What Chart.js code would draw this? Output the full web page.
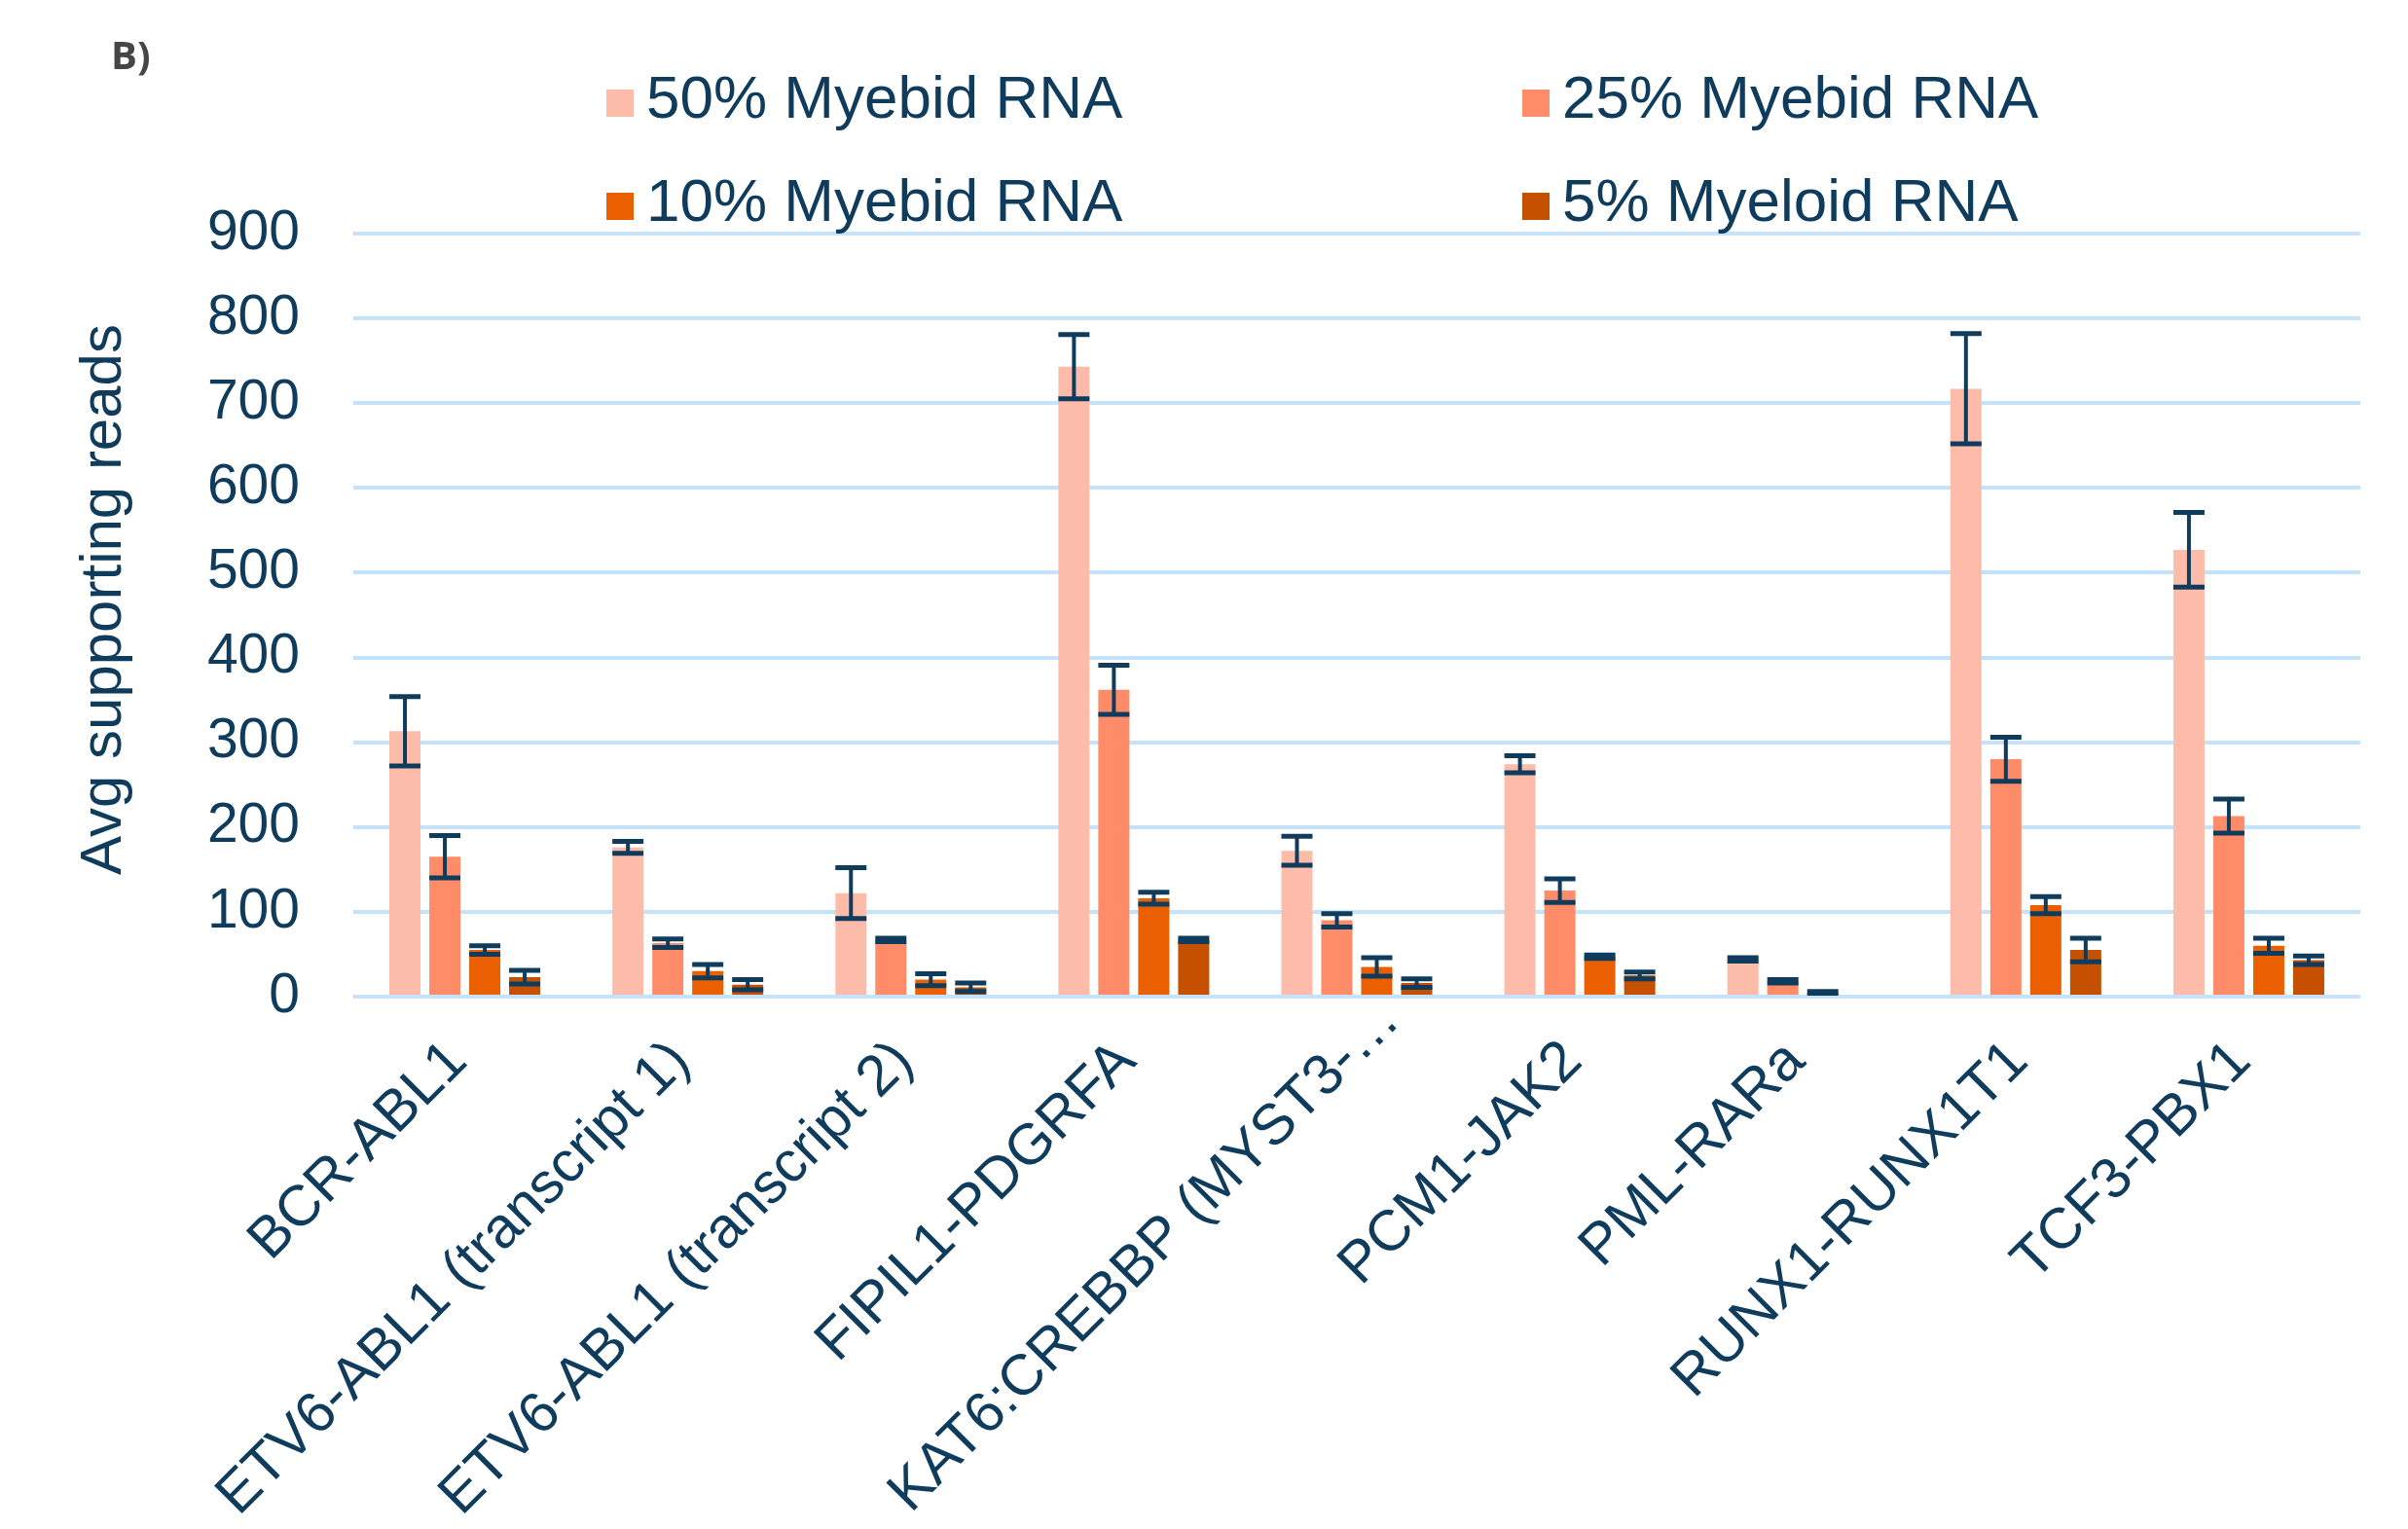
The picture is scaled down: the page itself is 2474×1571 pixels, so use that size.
<!DOCTYPE html>
<html>
<head>
<meta charset="utf-8">
<title>Avg supporting reads by fusion</title>
<script src="https://cdn.jsdelivr.net/npm/chart.js@4.4.1/dist/chart.umd.min.js"></script>
<style>
  html, body { margin: 0; padding: 0; background: #ffffff; }
  #wrap { position: relative; width: 2474px; height: 1571px; }
</style>
</head>
<body>
<div id="wrap"><canvas id="chart"></canvas></div>
<script>
// Fusion transcripts on the x axis
const categories = [
  'BCR-ABL1',
  'ETV6-ABL1 (transcript 1)',
  'ETV6-ABL1 (transcript 2)',
  'FIPIL1-PDGRFA',
  'KAT6:CREBBP (MYST3-\u2026',
  'PCM1-JAK2',
  'PML-RARa',
  'RUNX1-RUNX1T1',
  'TCF3-PBX1'
];

// Series names
const seriesNames = ['50% Myebid RNA', '25% Myebid RNA', '10% Myebid RNA', '5% Myeloid RNA'];

// Mean supporting reads per dilution
const reads50 = [313, 176, 122, 743, 172, 274, 44, 717, 527];
const reads25 = [165, 63, 67, 362, 90, 125, 18, 280, 213];
const reads10 = [55, 30, 20, 116, 35, 47, 5, 108, 60];
const reads5  = [23, 14, 11, 67, 16, 25, null, 55, 43];

// Error bar half-widths per dilution
const err50 = [41, 7, 30, 38, 17, 10, 2, 65, 44];
const err25 = [25, 5, 2, 29, 8, 14, 2, 26, 20];
const err10 = [5, 8, 7, 7, 11, 2, 1, 10, 9];
const err5  = [8, 6, 5, 2, 5, 4, null, 14, 5];

// Y axis tick values and title
const yTicks = [0, 100, 200, 300, 400, 500, 600, 700, 800, 900];
const yTitle = 'Avg supporting reads';

const navy = '#0f3c5c';
const seriesColors = ['#fdbba9', '#fe8c68', '#ea6000', '#c45000'];
const font = "'Liberation Sans', Arial, sans-serif";

// Symmetric error bars drawn on top of each bar
const errorBarPlugin = {
  id: 'errorBars',
  afterDatasetsDraw(chart, args, opts) {
    const ctx = chart.ctx;
    const yScale = chart.scales.y;
    chart.data.datasets.forEach((ds, di) => {
      const meta = chart.getDatasetMeta(di);
      if (meta.hidden) return;
      meta.data.forEach((bar, i) => {
        const v = ds.data[i];
        const e = ds.errors ? ds.errors[i] : null;
        if (v == null || e == null) return;
        const yTop = yScale.getPixelForValue(v + e);
        const yBot = yScale.getPixelForValue(Math.max(v - e, 0));
        const half = bar.width / 2;
        ctx.save();
        ctx.strokeStyle = opts.color;
        ctx.lineCap = 'butt';
        ctx.lineWidth = opts.stemWidth;
        ctx.beginPath();
        ctx.moveTo(bar.x, yTop);
        ctx.lineTo(bar.x, yBot);
        ctx.stroke();
        ctx.lineWidth = opts.capWidth;
        ctx.beginPath();
        ctx.moveTo(bar.x - half, yTop);
        ctx.lineTo(bar.x + half, yTop);
        ctx.moveTo(bar.x - half, yBot);
        ctx.lineTo(bar.x + half, yBot);
        ctx.stroke();
        ctx.restore();
      });
    });
  }
};

// Slanted category labels; a trailing ellipsis hangs past the tick
const categoryLabelPlugin = {
  id: 'categoryLabels',
  afterDraw(chart, args, opts) {
    const ctx = chart.ctx;
    const xs = chart.scales.x;
    const lineHeight = opts.size * 1.2;
    ctx.save();
    ctx.font = opts.size + 'px ' + font;
    ctx.fillStyle = opts.color;
    ctx.textAlign = 'right';
    ctx.textBaseline = 'middle';
    chart.data.labels.forEach((label, i) => {
      const hang = label.endsWith('\u2026') ? ctx.measureText('\u2026').width : 0;
      ctx.save();
      ctx.translate(xs.getPixelForTick(i) + opts.shiftX, xs.top + opts.padding);
      ctx.rotate(-opts.rotation * Math.PI / 180);
      ctx.fillText(label, hang, lineHeight / 2);
      ctx.restore();
    });
    ctx.restore();
  }
};

// Panel letter, two-column legend and rotated y title
const headerPlugin = {
  id: 'header',
  afterDraw(chart, args, opts) {
    const ctx = chart.ctx;
    ctx.save();
    ctx.fillStyle = opts.panelColor;
    ctx.font = opts.panelFont;
    ctx.textBaseline = 'middle';
    ctx.textAlign = 'left';
    ctx.fillText(opts.panelText, opts.panelX, opts.panelY);

    ctx.font = opts.itemFont;
    chart.data.datasets.forEach((ds, i) => {
      const col = i % 2, row = Math.floor(i / 2);
      const bx = opts.columns[col];
      const cy = opts.rows[row];
      ctx.fillStyle = ds.backgroundColor;
      ctx.fillRect(bx, cy - opts.boxSize / 2 + 2, opts.boxSize, opts.boxSize);
      ctx.fillStyle = opts.textColor;
      ctx.fillText(ds.label, bx + opts.boxSize + opts.gap, cy);
    });

    const ys = chart.scales.y;
    ctx.save();
    ctx.translate(opts.yTitleX, (ys.top + ys.bottom) / 2 + opts.yTitleShift);
    ctx.rotate(-Math.PI / 2);
    ctx.font = opts.yTitleFont;
    ctx.textAlign = 'center';
    ctx.fillStyle = opts.textColor;
    ctx.fillText(yTitle, 0, 0);
    ctx.restore();
    ctx.restore();
  }
};

const dataSeries = [reads50, reads25, reads10, reads5];
const errSeries = [err50, err25, err10, err5];

const chart = new Chart(document.getElementById('chart'), {
  type: 'bar',
  data: {
    labels: categories,
    datasets: seriesNames.map((name, i) => ({
      label: name,
      data: dataSeries[i],
      errors: errSeries[i],
      backgroundColor: seriesColors[i],
      borderWidth: 0,
      categoryPercentage: 0.716,
      barPercentage: 0.78
    }))
  },
  options: {
    responsive: true,
    maintainAspectRatio: false,
    animation: false,
    layout: { padding: { top: 240, right: 49, bottom: 0, left: 0 } },
    plugins: {
      legend: { display: false },
      tooltip: { enabled: false },
      errorBars: { color: navy, stemWidth: 4, capWidth: 5 },
      categoryLabels: { color: navy, size: 59, rotation: 45, padding: 32, shiftX: -32 },
      header: {
        panelText: 'B)',
        panelX: 114, panelY: 60,
        panelFont: "bold 40px 'Open Sans', 'Liberation Sans', sans-serif",
        panelColor: '#454545',
        itemFont: '62px ' + font,
        textColor: navy,
        columns: [623, 1564],
        rows: [104, 210],
        boxSize: 28,
        gap: 13,
        yTitleX: 107,
        yTitleShift: -16,
        yTitleFont: '60px ' + font
      }
    },
    scales: {
      x: {
        grid: { display: false, drawTicks: false },
        border: { display: false },
        ticks: { display: false, autoSkip: false },
        afterFit(scale) { scale.height = 547; }
      },
      y: {
        min: 0,
        max: 900,
        grid: { color: '#c6e2fa', lineWidth: 4, drawTicks: false },
        border: { display: false },
        ticks: {
          color: navy,
          font: { family: font, size: 57 },
          padding: 55
        },
        afterBuildTicks(scale) { scale.ticks = yTicks.map(v => ({ value: v })); },
        afterFit(scale) { scale.width = 363; }
      }
    }
  },
  plugins: [errorBarPlugin, categoryLabelPlugin, headerPlugin]
});
</script>
</body>
</html>
